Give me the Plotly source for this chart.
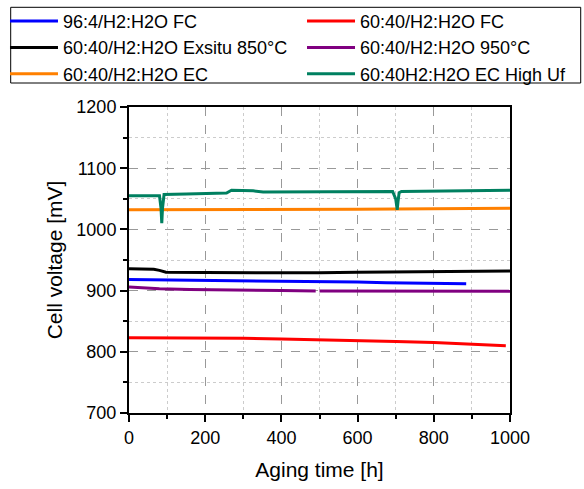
import plotly.graph_objects as go

# Aging runs: time [h] and cell voltage [mV] for each operating condition
t_fc96 = [0, 100, 200, 300, 400, 500, 600, 675, 800, 885]
v_fc96 = [918, 917.5, 917, 916.5, 916, 915, 914, 913, 912, 911]

t_fc60 = [0, 100, 200, 300, 400, 500, 600, 700, 800, 900, 989]
v_fc60 = [823, 823, 823, 822, 821, 820, 818, 817, 815, 812.5, 810]

t_ex850 = [0, 50, 65, 80, 97, 200, 300, 400, 500, 600, 675, 800, 900, 1000]
v_ex850 = [935.5, 935.5, 935, 933, 930, 929.5, 929, 929, 929, 930, 930.5, 931, 931.5, 932]

t_950 = [0, 40, 80, 160, 240, 320, 400, 490, 495, 500, 600, 700, 800, 900, 1000]
v_950 = [906, 904.5, 903, 902, 901, 900.5, 900, 899.5, None, 899.5, 899.5, 899, 899, 899, 899]

t_ec = [0, 100, 200, 300, 400, 500, 600, 700, 800, 900, 1000]
v_ec = [1032, 1032, 1032.5, 1032.5, 1033, 1033, 1033, 1033.5, 1033.5, 1034, 1034.5]

t_ecuf = [0, 50, 80, 84, 86, 88, 92, 150, 239, 256, 269, 326, 352, 420, 500, 600, 692,
          700, 704, 706, 709, 715, 800, 900, 1000]
v_ecuf = [1055, 1055, 1055, 1035, 1010, 1035, 1057, 1058, 1059, 1059.5, 1064, 1063, 1061, 1061,
          1062, 1062, 1062, 1050, 1032, 1045, 1060, 1062, 1062.5, 1063, 1064]

# (label, time, voltage, colour, legend column)
series = [
    ("96:4/H2:H2O FC", t_fc96, v_fc96, "#0000ff", "legend"),
    ("60:40/H2:H2O FC", t_fc60, v_fc60, "#ff0000", "legend2"),
    ("60:40/H2:H2O Exsitu 850°C", t_ex850, v_ex850, "#000000", "legend"),
    ("60:40/H2:H2O 950°C", t_950, v_950, "#800080", "legend2"),
    ("60:40/H2:H2O EC", t_ec, v_ec, "#ff8000", "legend"),
    ("60:40H2:H2O EC High Uf", t_ecuf, v_ecuf, "#008060", "legend2"),
]

fig = go.Figure()
for name, t, v, color, leg in series:
    fig.add_trace(go.Scatter(x=t, y=v, mode="lines", name=name, legend=leg,
                             line=dict(color=color, width=3), connectgaps=False))

font_family = "Liberation Sans, Arial, sans-serif"
axis_common = dict(
    showline=True, linecolor="black", linewidth=2, mirror=True,
    ticks="outside", ticklen=7, tickwidth=2, tickcolor="black",
    tickfont=dict(family=font_family, size=18, color="black"),
    showgrid=True, gridcolor="#999999", griddash="dash", gridwidth=1,
    zeroline=False,
)

fig.update_xaxes(
    range=[0, 1000], tick0=0, dtick=200,
    title=dict(text="Aging time [h]", font=dict(family=font_family, size=21, color="black"), standoff=16),
    minor=dict(dtick=100, ticks="outside", ticklen=4, tickwidth=2, tickcolor="black",
               showgrid=True, gridcolor="#cccccc", griddash="dot", gridwidth=1),
    **axis_common,
)
fig.update_yaxes(
    range=[700, 1200], tick0=700, dtick=100,
    title=dict(text="Cell voltage [mV]", font=dict(family=font_family, size=21, color="black"), standoff=8),
    minor=dict(dtick=50, ticks="outside", ticklen=4, tickwidth=2, tickcolor="black",
               showgrid=True, gridcolor="#cccccc", griddash="dot", gridwidth=1),
    **axis_common,
)

leg_common = dict(
    orientation="v", yanchor="top", xanchor="left",
    bgcolor="rgba(0,0,0,0)", borderwidth=0,
    font=dict(family=font_family, size=18, color="black"),
    itemwidth=48, tracegroupgap=0,
)

fig.update_layout(
    width=584, height=489,
    margin=dict(l=129, r=74, t=107, b=76, autoexpand=False),
    paper_bgcolor="white", plot_bgcolor="white",
    font=dict(family=font_family, size=18, color="black"),
    legend=dict(x=-0.3255, y=1.3405, **leg_common),
    legend2=dict(x=0.4541, y=1.3405, **leg_common),
    shapes=[dict(type="rect", xref="paper", yref="paper",
                 x0=-0.3105, x1=1.1856, y0=1.0784, y1=1.3258,
                 line=dict(color="black", width=1), fillcolor="rgba(0,0,0,0)")],
)

fig.write_html("out.html")
